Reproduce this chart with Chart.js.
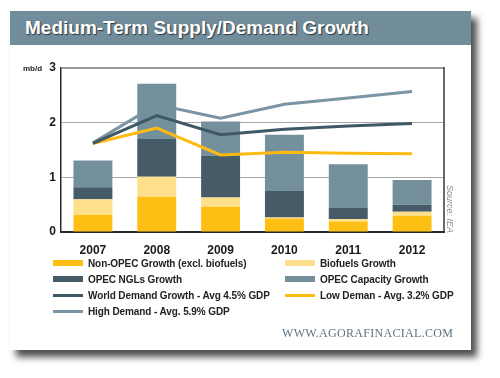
<!DOCTYPE html>
<html>
<head>
<meta charset="utf-8">
<script src="https://cdn.jsdelivr.net/npm/chart.js@4/dist/chart.umd.min.js"></script>
<style>
  body { margin: 0; background: #fff; width: 500px; height: 378px; position: relative; overflow: hidden; font-family: "Liberation Sans", Arial, sans-serif; }
  .card { position: absolute; left: 10px; top: 11px; width: 461px; height: 339px; background: #fff; box-shadow: 6px 7px 7px rgba(0,0,0,0.7); }
  .head { position: absolute; left: 0; top: 0; width: 461px; height: 34px; background: #718c9a; }
  .head span { position: absolute; left: 15px; top: 6px; color: #fff; font-weight: bold; font-size: 19px; letter-spacing: 0px; text-shadow: 1px 1px 1px #2a3a44; white-space: nowrap; }
  canvas { position: absolute; left: 0; top: 0; }
  .unit { position: absolute; left: 23px; top: 64px; font-size: 8px; font-weight: bold; color: #222; }
  .source { position: absolute; left: 445px; top: 200px; transform-origin: 0 0; transform: rotate(90deg) translate(-15px, -10px); font-size: 9px; font-style: italic; color: #8a8a8a; white-space: nowrap; }
  .legend { position: absolute; left: 53px; top: 255px; display: grid; grid-template-columns: 232px 200px; grid-auto-rows: 16px; }
  .item { display: flex; align-items: center; font-size: 10px; letter-spacing: -0.1px; font-weight: bold; color: #222; white-space: nowrap; }
  .sw { width: 30px; margin-right: 5px; }
  .url { position: absolute; left: 282px; top: 326px; font-family: "Liberation Serif", "DejaVu Serif", serif; font-size: 12px; letter-spacing: 0.3px; color: #5d7280; white-space: nowrap; }
</style>
</head>
<body>
<div class="card"><div class="head"><span>Medium-Term Supply/Demand Growth</span></div></div>
<canvas id="chart" width="500" height="378"></canvas>
<div class="unit">mb/d</div>
<div class="source">Source: IEA</div>
<div class="legend js-legend"></div>
<div class="url">WWW.AGORAFINACIAL.COM</div>
<script>
const years = ['2007', '2008', '2009', '2010', '2011', '2012'];
const yTicks = [0, 1, 2, 3];

// stacked bars, mb/d
const nonOpec = [0.31, 0.645, 0.46, 0.245, 0.19, 0.295];
const biofuels = [0.29, 0.365, 0.17, 0.02, 0.05, 0.075];
const opecNgls = [0.22, 0.69, 0.77, 0.485, 0.20, 0.13];
const opecCapacity = [0.49, 1.01, 0.62, 1.03, 0.80, 0.45];

// demand lines
const worldDemand = [1.62, 2.13, 1.78, 1.88, 1.94, 1.985];
const lowDemand = [1.62, 1.90, 1.41, 1.46, 1.44, 1.43];
const highDemand = [1.63, 2.33, 2.08, 2.335, 2.45, 2.57];

const barSet = function(label, data, color) {
  return { type: 'bar', label: label, data: data, backgroundColor: color, stack: 's', order: 2,
           barPercentage: 0.61, categoryPercentage: 1 };
};
const lineSet = function(label, data, color, order) {
  // own stack so the lines are not added on top of each other
  return { type: 'line', label: label, data: data, borderColor: color, backgroundColor: color,
           borderWidth: 3, pointRadius: 0, tension: 0, fill: false, order: order, stack: label };
};

// right border of the plot box
const boxPlugin = {
  id: 'box',
  afterDraw(chart) {
    const a = chart.chartArea;
    const ctx = chart.ctx;
    ctx.save();
    ctx.strokeStyle = '#3a3a3a';
    ctx.lineWidth = 1.5;
    ctx.beginPath();
    ctx.moveTo(a.right, a.top - 1);
    ctx.lineTo(a.right, a.bottom);
    ctx.stroke();
    ctx.restore();
  }
};

const chart = new Chart(document.querySelector('#chart').getContext('2d'), {
  type: 'bar',
  data: {
    labels: years,
    datasets: [
      barSet('Non-OPEC Growth (excl. biofuels)', nonOpec, '#fdbf14'),
      barSet('Biofuels Growth', biofuels, '#fddf8c'),
      barSet('OPEC NGLs Growth', opecNgls, '#455b67'),
      barSet('OPEC Capacity Growth', opecCapacity, '#75909d'),
      lineSet('World Demand Growth - Avg 4.5% GDP', worldDemand, '#3f5866', 1),
      lineSet('Low Deman - Avg. 3.2% GDP', lowDemand, '#fcba12', 1),
      // high demand sits behind the bars, like in the original
      lineSet('High Demand - Avg. 5.9% GDP', highDemand, '#7a94a3', 3)
    ]
  },
  options: {
    responsive: false,
    animation: false,
    layout: { padding: { left: 20, right: 56, top: 68, bottom: 116 } },
    plugins: { legend: { display: false }, tooltip: { enabled: false } },
    scales: {
      x: {
        stacked: true,
        grid: { display: false },
        border: { color: '#2a2a2a', width: 2 },
        ticks: { color: '#1a1a1a', font: { family: 'Liberation Sans', size: 12, weight: 'bold' }, padding: 3 },
        afterFit(scale) { scale.height = 30; }
      },
      y: {
        stacked: true,
        min: 0,
        max: 3,
        afterBuildTicks(scale) { scale.ticks = yTicks.map(v => ({ value: v })); },
        grid: {
          drawTicks: false,
          color: ctx => ctx.tick.value === 3 ? '#9a9a9a' : (ctx.tick.value === 0 ? 'rgba(0,0,0,0)' : '#a8a8a8'),
          lineWidth: ctx => ctx.tick.value === 3 ? 2 : 1
        },
        border: { color: '#2a2a2a', width: 1.5 },
        ticks: { color: '#1a1a1a', font: { family: 'Liberation Sans', size: 12, weight: 'bold' }, padding: 5 },
        afterFit(scale) { scale.width = 41; }
      }
    }
  },
  plugins: [boxPlugin]
});

// legend in two columns, built from the datasets
const legend = document.querySelector('.js-legend');
for (const ds of chart.data.datasets) {
  const item = document.createElement('div');
  item.className = 'item';
  const sw = document.createElement('div');
  sw.className = 'sw';
  sw.style.height = ds.type === 'bar' ? '6px' : '3px';
  sw.style.background = ds.type === 'bar' ? ds.backgroundColor : ds.borderColor;
  const txt = document.createElement('span');
  txt.textContent = ds.label;
  item.appendChild(sw);
  item.appendChild(txt);
  legend.appendChild(item);
}
</script>
</body>
</html>
